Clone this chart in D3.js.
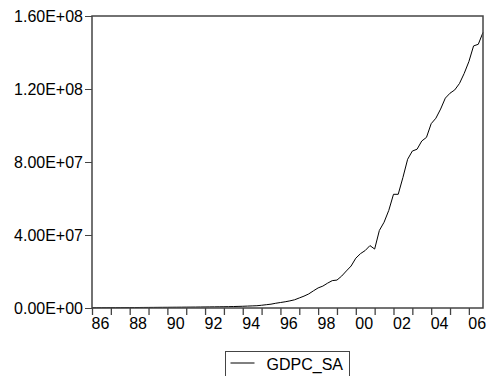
<!DOCTYPE html>
<html>
<head>
<meta charset="utf-8">
<script src="https://cdn.jsdelivr.net/npm/d3@7"></script>
<style>
  body { margin: 0; background: #fff; }
  svg { display: block; font-family: "Liberation Sans", Arial, sans-serif; }
</style>
</head>
<body>
<div id="chart"></div>
<script>
// quarterly series, 1986Q1 .. 2006Q4
const seriesName = 'GDPC_SA';
const firstYear = 1986;
const gdpc = [
  0.15e6, 0.16e6, 0.17e6, 0.18e6,
  0.19e6, 0.20e6, 0.21e6, 0.22e6,
  0.24e6, 0.26e6, 0.28e6, 0.30e6,
  0.32e6, 0.34e6, 0.36e6, 0.38e6,
  0.40e6, 0.42e6, 0.44e6, 0.46e6,
  0.48e6, 0.50e6, 0.52e6, 0.55e6,
  0.58e6, 0.61e6, 0.64e6, 0.67e6,
  0.70e6, 0.74e6, 0.80e6, 0.88e6,
  0.95e6, 1.05e6, 1.15e6, 1.25e6,
  1.5e6, 1.8e6, 2.1e6, 2.6e6,
  3.0e6, 3.4e6, 3.9e6, 4.5e6,
  5.5e6, 6.5e6, 7.7e6, 9.4e6,
  11.0e6, 12.0e6, 13.6e6, 15.0e6,
  15.3e6, 17.5e6, 20.3e6, 23.0e6,
  27.3e6, 29.8e6, 31.5e6, 34.2e6,
  32.3e6, 42.5e6, 47.0e6, 53.5e6,
  62.3e6, 62.3e6, 71.5e6, 81.5e6,
  86.0e6, 87.0e6, 91.5e6, 93.5e6,
  101.0e6, 104.0e6, 109.0e6, 115.0e6,
  117.7e6, 119.5e6, 123.0e6, 128.5e6,
  135.0e6, 143.6e6, 144.5e6, 151.0e6
];
const tickYears = [1986, 1987, 1988, 1989, 1990, 1991, 1992, 1993, 1994, 1995, 1996,
  1997, 1998, 1999, 2000, 2001, 2002, 2003, 2004, 2005, 2006];
const xLabels = ['86', '', '88', '', '90', '', '92', '', '94', '', '96',
  '', '98', '', '00', '', '02', '', '04', '', '06'];
const yTicks = [0, 4e7, 8e7, 1.2e8, 1.6e8];
const yLabels = ['0.00E+00', '4.00E+07', '8.00E+07', '1.20E+08', '1.60E+08'];

const width = 490;
const height = 376;
const margin = { top: 16, right: 7, bottom: 68, left: 92 };

const svg = d3.select('#chart')
  .append('svg')
  .attr('width', width)
  .attr('height', height);

const data = gdpc.map((v, i) => ({ t: firstYear + i / 4, v: v }));

const x = d3.scaleLinear()
  .domain([firstYear, firstYear + (gdpc.length - 1) / 4])
  .range([margin.left, width - margin.right]);

const y = d3.scaleLinear()
  .domain([0, 1.6e8])
  .range([height - margin.bottom, margin.top]);

// y axis
svg.append('g')
  .attr('transform', `translate(${margin.left},0)`)
  .call(d3.axisLeft(y).tickValues(yTicks).tickFormat((d, i) => yLabels[i]).tickSize(7).tickPadding(2))
  .call(g => g.select('.domain').remove())
  .call(g => g.selectAll('line').attr('stroke', '#444'))
  .call(g => g.selectAll('text').attr('font-size', 16).attr('fill', '#000'));

// x axis
svg.append('g')
  .attr('transform', `translate(0,${height - margin.bottom})`)
  .call(d3.axisBottom(x).tickValues(tickYears).tickFormat((d, i) => xLabels[i]).tickSize(7))
  .call(g => g.select('.domain').remove())
  .call(g => g.selectAll('line').attr('stroke', '#444').attr('stroke-width', 1.3))
  .call(g => g.selectAll('text')
    .attr('font-size', 16)
    .attr('fill', '#000')
    .attr('text-anchor', 'start')
    .attr('x', -1)
    .attr('y', 10)
    .attr('dy', '0.71em'));

// series line
svg.append('path')
  .datum(data)
  .attr('fill', 'none')
  .attr('stroke', '#000')
  .attr('stroke-width', 1)
  .attr('d', d3.line().x(d => x(d.t)).y(d => y(d.v)));

// frame
svg.append('rect')
  .attr('x', margin.left)
  .attr('y', margin.top)
  .attr('width', width - margin.left - margin.right)
  .attr('height', height - margin.top - margin.bottom)
  .attr('fill', 'none')
  .attr('stroke', '#444')
  .attr('stroke-width', 1.5);

// legend
const lg = svg.append('g').attr('transform', 'translate(225.5,351.5)');
lg.append('rect')
  .attr('width', 124)
  .attr('height', 30)
  .attr('fill', 'none')
  .attr('stroke', '#444');
lg.append('line')
  .attr('x1', 5).attr('x2', 29)
  .attr('y1', 11.5).attr('y2', 11.5)
  .attr('stroke', '#000');
lg.append('text')
  .attr('x', 41)
  .attr('y', 18)
  .attr('font-size', 16)
  .text(seriesName);
</script>
</body>
</html>
